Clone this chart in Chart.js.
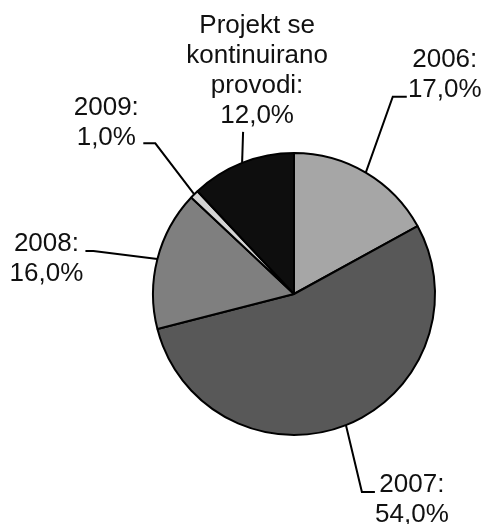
<!DOCTYPE html>
<html>
<head>
<meta charset="utf-8">
<script src="https://cdn.jsdelivr.net/npm/chart.js@4"></script>
<style>
  body { margin: 0; background: #fff; }
  canvas { display: block; }
</style>
</head>
<body>
<canvas id="myChart" width="486" height="524"></canvas>
<script>
// podaci
const kategorije = ['2006', '2007', '2008', '2009', 'Projekt se kontinuirano provodi'];
const udjeli = [17, 54, 16, 1, 12];
const natpisi = [['2006:'], ['2007:'], ['2008:'], ['2009:'], ['Projekt se', 'kontinuirano', 'provodi:']];
const boje = ['#a6a6a6', '#585858', '#7f7f7f', '#d4d4d4', '#0e0e0e'];

// gdje idu natpisi, relativno od ruba kriske: lakat, kraj linije, sredina teksta
const rasporedNatpisa = [
    { lakat: [27, -76], kraj: [41, -76], tekst: [79, -106] },
    { lakat: [16, 67], kraj: [29, 67], tekst: [66, 67] },
    { lakat: [-64, -8], kraj: [-72, -8], tekst: [-111, -8] },
    { lakat: [-39, -51], kraj: [-51, -51], tekst: [-88, -79] },
    { lakat: [1, -31], kraj: [1, -31], tekst: [15, -130] },
];

const visinaReda = 30;

const natpisiPlugin = {
    id: 'natpisi',
    afterDatasetsDraw(chart) {
        const ctx = chart.ctx;
        const kriske = chart.getDatasetMeta(0).data;
        ctx.save();
        ctx.font = '26px "Liberation Sans", Arial, sans-serif';
        ctx.fillStyle = '#111';
        ctx.strokeStyle = '#000';
        ctx.lineWidth = 2;
        ctx.textAlign = 'center';
        kriske.forEach((kriska, i) => {
            const p = kriska.getProps(['x', 'y', 'startAngle', 'endAngle', 'outerRadius'], true);
            const kut = (p.startAngle + p.endAngle) / 2;
            const ex = p.x + Math.cos(kut) * p.outerRadius;
            const ey = p.y + Math.sin(kut) * p.outerRadius;
            const r = rasporedNatpisa[i];
            ctx.beginPath();
            ctx.moveTo(ex, ey);
            ctx.lineTo(ex + r.lakat[0], ey + r.lakat[1]);
            ctx.lineTo(ex + r.kraj[0], ey + r.kraj[1]);
            ctx.stroke();
            const redovi = [...natpisi[i], udjeli[i].toFixed(1).replace('.', ',') + '%'];
            redovi.forEach((t, k) => {
                ctx.fillText(t, ex + r.tekst[0], ey + r.tekst[1] + k * visinaReda);
            });
        });
        ctx.restore();
    },
};

new Chart(document.getElementById('myChart'), {
    type: 'pie',
    data: {
        labels: kategorije,
        datasets: [{
            data: udjeli,
            backgroundColor: boje,
            borderColor: '#000',
            borderWidth: 2,
        }],
    },
    options: {
        responsive: false,
        animation: false,
        layout: { padding: { left: 152, top: 152, right: 50, bottom: 88 } },
        plugins: {
            legend: { display: false },
            tooltip: { enabled: false },
        },
    },
    plugins: [natpisiPlugin],
});
</script>
</body>
</html>
